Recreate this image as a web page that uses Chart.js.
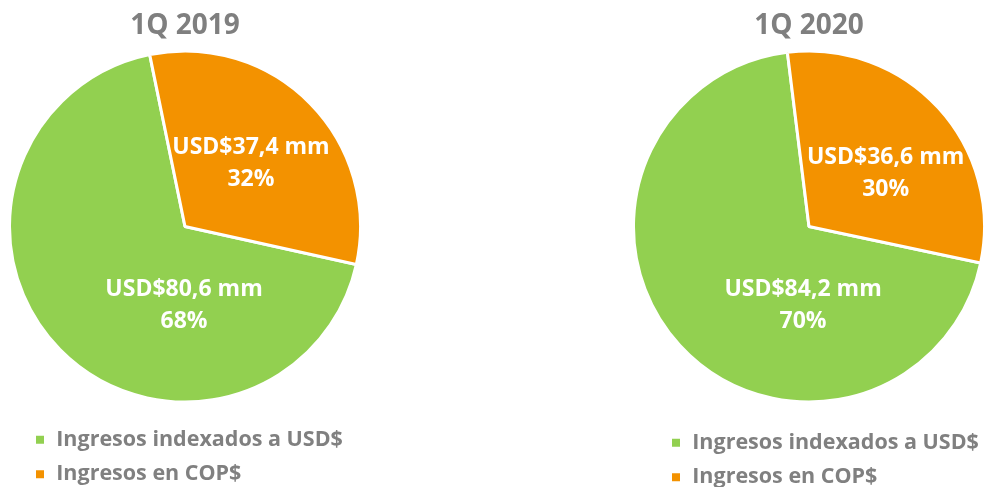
<!DOCTYPE html>
<html>
<head>
<meta charset="utf-8">
<script src="https://cdn.jsdelivr.net/npm/chart.js@4"></script>
<style>
  html, body { margin: 0; padding: 0; background: #fff; overflow: hidden; width: 988px; height: 487px; }
  canvas { position: absolute; top: 0; }
  #c2019 { left: 8px; }
  #c2020 { left: 632px; }
</style>
</head>
<body>
<canvas id="c2019" width="354" height="495"></canvas>
<canvas id="c2020" width="354" height="498"></canvas>
<script>
// data
const categories = ['Ingresos indexados a USD$', 'Ingresos en COP$'];
const values2019 = [80.6, 37.4];   // USD mm
const values2020 = [84.2, 36.6];
const colors = ['#92D050', '#F39200'];

Chart.defaults.font.family = '"Open Sans", sans-serif';

// labels inside the slices: value + share
const sliceLabels = {
  id: 'sliceLabels',
  afterDatasetsDraw(chart, args, opts) {
    const ctx = chart.ctx;
    const data = chart.data.datasets[0].data;
    const total = data.reduce((a, b) => a + b, 0);
    chart.getDatasetMeta(0).data.forEach((arc, i) => {
      const spot = opts.spots[i];
      const a = (spot.angle - 90) * Math.PI / 180;
      const r = arc.outerRadius * spot.dist;
      const x = arc.x + Math.cos(a) * r;
      const y = arc.y + Math.sin(a) * r;
      ctx.save();
      ctx.fillStyle = '#fff';
      ctx.font = 'bold 23px "Open Sans"';
      ctx.textAlign = 'center';
      ctx.textBaseline = 'middle';
      ctx.fillText('USD$' + data[i].toFixed(1).replace('.', ',') + ' mm', x, y - 16);
      ctx.fillText(Math.round(data[i] / total * 100) + '%', x, y + 16);
      ctx.restore();
    });
  }
};

// push the legend a bit to the right of the chart area edge
const legendShift = {
  id: 'legendShift',
  afterLayout(chart, args, opts) {
    if (chart.legend) chart.legend.left += opts.dx || 0;
  }
};

function makePie(id, title, values, rotation, spots, titlePadBottom, legendDx) {
  return new Chart(document.getElementById(id), {
    type: 'pie',
    data: {
      labels: categories,
      datasets: [{
        data: values,
        backgroundColor: colors,
        borderColor: '#fff',
        borderWidth: 3,
        hoverOffset: 0
      }]
    },
    options: {
      responsive: false,
      animation: false,
      rotation: rotation,
      plugins: {
        title: {
          display: true,
          text: title,
          color: '#7F7F7F',
          font: { size: 28, weight: 'bold', lineHeight: 1 },
          padding: { top: 12, bottom: titlePadBottom }
        },
        legend: {
          position: 'bottom',
          align: 'start',
          labels: {
            color: '#808080',
            font: { size: 21.5, weight: 'bold' },
            boxWidth: 11,
            boxHeight: 11,
            padding: 13
          }
        },
        tooltip: { enabled: false },
        sliceLabels: { spots: spots },
        legendShift: { dx: legendDx }
      }
    },
    plugins: [sliceLabels, legendShift]
  });
}

makePie('c2019', '1Q 2019', values2019, 102.5,
  [{ angle: 180.7, dist: 0.45 }, { angle: 46.3, dist: 0.52 }], -3, 13.5);
makePie('c2020', '1Q 2020', values2020, 102,
  [{ angle: 184.3, dist: 0.45 }, { angle: 55.5, dist: 0.53 }], -6, 25.5);
</script>
</body>
</html>
